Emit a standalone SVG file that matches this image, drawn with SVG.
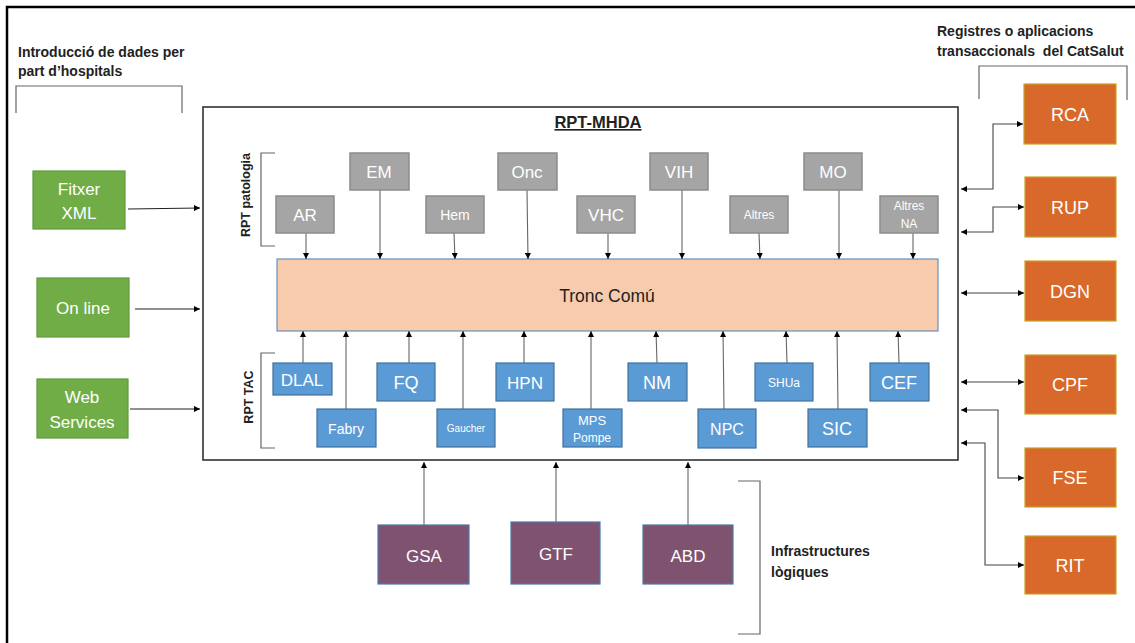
<svg xmlns="http://www.w3.org/2000/svg" width="1135" height="643" viewBox="0 0 1135 643">
<defs>
<marker id="ah" viewBox="0 0 6 6" refX="6" refY="3" markerWidth="6" markerHeight="6" markerUnits="userSpaceOnUse" orient="auto-start-reverse"><path d="M0,0 L6,3 L0,6 z" fill="#000"/></marker>
<style>
text{font-family:"Liberation Sans",Arial,sans-serif}
.lbl{font-weight:bold;font-size:14px;fill:#222}
.rot{font-weight:bold;font-size:12.5px;fill:#222}
.gray rect{fill:#a5a5a5;stroke:#8c8c8c;stroke-width:1.5}
.blue rect{fill:#5b9bd5;stroke:#41719c;stroke-width:1.2}
.green rect{fill:#70ad47;stroke:#5e9a3a;stroke-width:1.2}
.orange rect{fill:#d8692a;stroke:#c9a224;stroke-width:1.2}
.purple rect{fill:#7f5370;stroke:#4a78a8;stroke-width:1.2}
.node text{fill:#fff;text-anchor:middle}
.v{stroke:#666;stroke-width:1.1;fill:none;marker-end:url(#ah)}
.h{stroke:#222;stroke-width:1.1;fill:none;marker-end:url(#ah)}
.d{stroke:#444;stroke-width:1.1;fill:none;marker-start:url(#ah);marker-end:url(#ah)}
.br{stroke:#666;stroke-width:1.2;fill:none}
</style>
</defs>
<rect x="0" y="0" width="1135" height="643" fill="#fff"/>
<path d="M7,643 V7 H1135" stroke="#000" stroke-width="2.5" fill="none"/>

<g id="labels">
<text class="lbl" x="18" y="57">Introducció de dades per</text>
<text class="lbl" x="18" y="76">part d’hospitals</text>
<path class="br" d="M16,113 V86 H182 V113"/>
<text class="lbl" x="937" y="36">Registres o aplicacions</text>
<text class="lbl" x="937" y="56" style="white-space:pre">transaccionals  del CatSalut</text>
<path class="br" d="M979,99 V66 H1127 V100"/>
<text class="lbl" x="771" y="556">Infrastructures</text>
<text class="lbl" x="771" y="577">lògiques</text>
<path class="br" d="M738,481 H760 V634 H738"/>
</g>

<g id="main">
<rect x="203" y="107" width="755" height="353" fill="#fff" stroke="#333" stroke-width="1.6"/>
<text x="598" y="128" text-anchor="middle" font-weight="bold" font-size="16.5" fill="#222" text-decoration="underline">RPT-MHDA</text>
<text class="rot" transform="translate(250,195) rotate(-90)" text-anchor="middle">RPT patologia</text>
<path class="br" d="M275,153 H261 V246 H275"/>
<text class="rot" transform="translate(253,397) rotate(-90)" text-anchor="middle">RPT TAC</text>
<path class="br" d="M275,353 H261 V448 H275"/>
</g>

<g id="tronc">
<rect x="277" y="259" width="661" height="72" fill="#f8cbad" stroke="#6a8fc0" stroke-width="1.2"/>
<text x="607" y="302" text-anchor="middle" font-size="17.5" fill="#222">Tronc Comú</text>
</g>

<g id="connectors">
<line class="v" x1="306" y1="233" x2="306" y2="259"/>
<line class="v" x1="380" y1="190" x2="380" y2="259"/>
<line class="v" x1="454" y1="233" x2="455" y2="259"/>
<line class="v" x1="527" y1="190" x2="528" y2="259"/>
<line class="v" x1="608" y1="233" x2="608" y2="259"/>
<line class="v" x1="682" y1="190" x2="682" y2="259"/>
<line class="v" x1="759" y1="233" x2="760" y2="259"/>
<line class="v" x1="839" y1="190" x2="839" y2="259"/>
<line class="v" x1="913" y1="233" x2="913" y2="259"/>

<line class="v" x1="303" y1="363" x2="303" y2="331"/>
<line class="v" x1="346" y1="409" x2="346" y2="331"/>
<line class="v" x1="409" y1="363" x2="409" y2="331"/>
<line class="v" x1="463" y1="409" x2="463" y2="331"/>
<line class="v" x1="524" y1="363" x2="524" y2="331"/>
<line class="v" x1="591" y1="409" x2="591" y2="331"/>
<line class="v" x1="657" y1="363" x2="656" y2="331"/>
<line class="v" x1="724" y1="409" x2="723" y2="331"/>
<line class="v" x1="787" y1="363" x2="786" y2="331"/>
<line class="v" x1="838" y1="409" x2="837" y2="331"/>
<line class="v" x1="899" y1="363" x2="898" y2="331"/>

<line class="h" x1="128" y1="209" x2="200" y2="208"/>
<line class="h" x1="135" y1="309" x2="200" y2="309"/>
<line class="h" x1="130" y1="409" x2="200" y2="409"/>

<line class="v" x1="424" y1="525" x2="424" y2="462"/>
<line class="v" x1="556" y1="522" x2="556" y2="462"/>
<line class="v" x1="688" y1="525" x2="688" y2="462"/>

<path class="d" d="M961,189 H993 V124 H1023" stroke="#a8a8a8"/>
<path class="d" d="M961,232 H993 V207 H1024"/>
<path class="d" d="M961,293 H1024"/>
<path class="d" d="M961,382 H1024"/>
<path class="d" d="M961,410 H998 V478 H1024"/>
<path class="d" d="M961,443 H985 V565 H1024" stroke="#777"/>
</g>

<g id="n-AR" class="node gray"><rect x="276" y="196" width="58" height="37"/><text x="305" y="221" font-size="17">AR</text></g>
<g id="n-EM" class="node gray"><rect x="350" y="153" width="59" height="37"/><text x="379" y="178" font-size="17">EM</text></g>
<g id="n-Hem" class="node gray"><rect x="426" y="196" width="58" height="37"/><text x="455" y="220" font-size="14">Hem</text></g>
<g id="n-Onc" class="node gray"><rect x="498" y="153" width="59" height="37"/><text x="527" y="178" font-size="17">Onc</text></g>
<g id="n-VHC" class="node gray"><rect x="577" y="196" width="58" height="37"/><text x="606" y="221" font-size="17">VHC</text></g>
<g id="n-VIH" class="node gray"><rect x="650" y="153" width="58" height="37"/><text x="679" y="178" font-size="17">VIH</text></g>
<g id="n-Altres" class="node gray"><rect x="730" y="196" width="58" height="37"/><text x="759" y="219" font-size="12">Altres</text></g>
<g id="n-MO" class="node gray"><rect x="804" y="153" width="58" height="37"/><text x="833" y="178" font-size="17">MO</text></g>
<g id="n-AltresNA" class="node gray"><rect x="880" y="196" width="58" height="37"/><text x="909" y="210" font-size="12">Altres</text><text x="909" y="228" font-size="12">NA</text></g>

<g id="n-DLAL" class="node blue"><rect x="273" y="363" width="59" height="32"/><text x="302" y="386" font-size="17">DLAL</text></g>
<g id="n-Fabry" class="node blue"><rect x="317" y="409" width="59" height="38"/><text x="346" y="434" font-size="14">Fabry</text></g>
<g id="n-FQ" class="node blue"><rect x="377" y="363" width="58" height="38"/><text x="406" y="389" font-size="18">FQ</text></g>
<g id="n-Gaucher" class="node blue"><rect x="437" y="409" width="58" height="38"/><text x="466" y="432" font-size="10">Gaucher</text></g>
<g id="n-HPN" class="node blue"><rect x="496" y="363" width="58" height="38"/><text x="525" y="389" font-size="17">HPN</text></g>
<g id="n-MPS" class="node blue"><rect x="563" y="409" width="59" height="38"/><text x="592" y="425" font-size="13">MPS</text><text x="592" y="442" font-size="12">Pompe</text></g>
<g id="n-NM" class="node blue"><rect x="628" y="363" width="59" height="38"/><text x="657" y="389" font-size="18">NM</text></g>
<g id="n-NPC" class="node blue"><rect x="698" y="409" width="58" height="39"/><text x="727" y="435" font-size="16">NPC</text></g>
<g id="n-SHUa" class="node blue"><rect x="755" y="363" width="58" height="38"/><text x="784" y="387" font-size="12">SHUa</text></g>
<g id="n-SIC" class="node blue"><rect x="808" y="409" width="59" height="38"/><text x="837" y="435" font-size="18">SIC</text></g>
<g id="n-CEF" class="node blue"><rect x="870" y="363" width="59" height="38"/><text x="899" y="389" font-size="18">CEF</text></g>

<g id="n-Fitxer" class="node green"><rect x="33" y="171" width="92" height="58"/><text x="79" y="195" font-size="17">Fitxer</text><text x="79" y="219" font-size="17">XML</text></g>
<g id="n-Online" class="node green"><rect x="37" y="278" width="92" height="59"/><text x="83" y="314" font-size="17">On line</text></g>
<g id="n-Web" class="node green"><rect x="37" y="379" width="91" height="59"/><text x="82" y="403" font-size="17">Web</text><text x="82" y="428" font-size="17">Services</text></g>

<g id="n-RCA" class="node orange"><rect x="1024" y="84" width="92" height="60"/><text x="1070" y="121" font-size="18">RCA</text></g>
<g id="n-RUP" class="node orange"><rect x="1025" y="177" width="91" height="60"/><text x="1070" y="214" font-size="18">RUP</text></g>
<g id="n-DGN" class="node orange"><rect x="1025" y="261" width="91" height="60"/><text x="1070" y="298" font-size="18">DGN</text></g>
<g id="n-CPF" class="node orange"><rect x="1025" y="355" width="91" height="59"/><text x="1070" y="391" font-size="18">CPF</text></g>
<g id="n-FSE" class="node orange"><rect x="1025" y="448" width="91" height="59"/><text x="1070" y="484" font-size="18">FSE</text></g>
<g id="n-RIT" class="node orange"><rect x="1025" y="536" width="91" height="58"/><text x="1070" y="572" font-size="18">RIT</text></g>

<g id="n-GSA" class="node purple"><rect x="378" y="525" width="91" height="59"/><text x="424" y="562" font-size="17">GSA</text></g>
<g id="n-GTF" class="node purple"><rect x="511" y="522" width="89" height="62"/><text x="556" y="560" font-size="17">GTF</text></g>
<g id="n-ABD" class="node purple"><rect x="643" y="525" width="90" height="59"/><text x="688" y="562" font-size="17">ABD</text></g>
</svg>
